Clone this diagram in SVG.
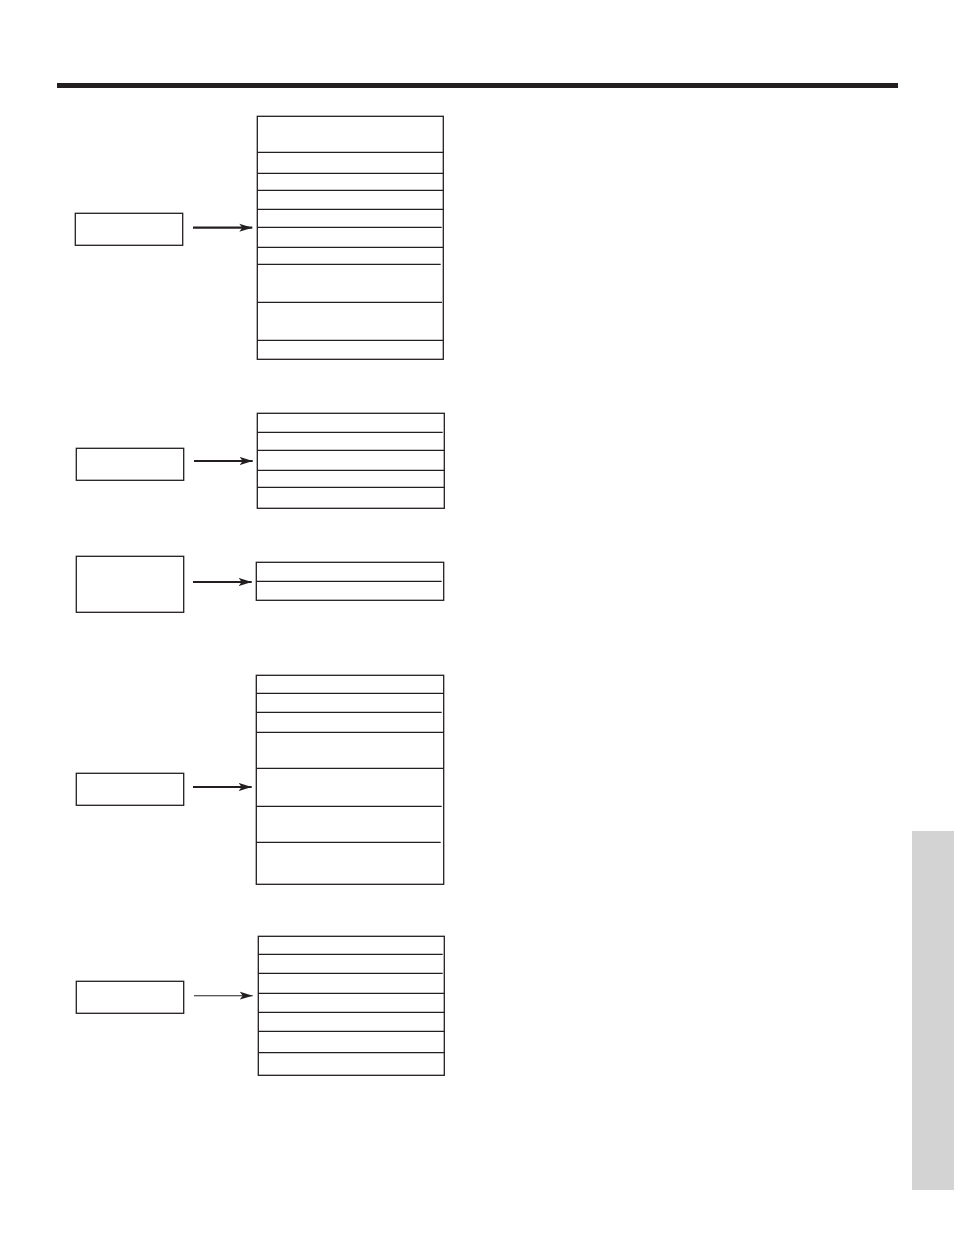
<svg xmlns="http://www.w3.org/2000/svg" width="954" height="1235" viewBox="0 0 954 1235">
<style>
.box{fill:#fff;stroke:#231f20;stroke-width:1.3}
.div{stroke:#231f20;stroke-width:1.3;fill:none}
.arr{stroke:#231f20;fill:none}
</style>
<defs>
<marker id="ah" markerUnits="userSpaceOnUse" markerWidth="16" markerHeight="10" refX="13" refY="5" orient="auto" viewBox="0 0 16 10">
<path d="M0,1 L13,5 L0,9 L3,5 Z" fill="#231f20"/>
</marker>
</defs>
<rect x="0" y="0" width="954" height="1235" fill="#fff"/>
<rect id="topbar" x="57" y="83" width="841" height="5" fill="#231f20"/>
<rect id="sidetab" x="912" y="831" width="42" height="359" fill="#d3d3d3"/>

<g id="src1"><rect class="box" x="75.3" y="213.3" width="107.4" height="32"/></g>
<g id="menu1">
<rect class="box" x="257.3" y="116.3" width="186" height="243"/>
<path class="div" d="M257.3,152.3H443.3M257.3,173.3H443.3M257.3,190.3H443.3M257.3,209.3H443.3M257.3,227.3H441.7M257.3,247.3H443.3M257.3,264.3H440.7M257.3,302.3H442M257.3,340.3H443.3"/>
</g>

<g id="src2"><rect class="box" x="76.3" y="448.3" width="107.4" height="32"/></g>
<g id="menu2">
<rect class="box" x="257.3" y="413.3" width="187" height="95"/>
<path class="div" d="M257.3,432.3H442.7M257.3,450.3H444.3M257.3,470.3H444.3M257.3,487.3H444.3"/>
</g>

<g id="src3"><rect class="box" x="76.3" y="556.3" width="107.4" height="56"/></g>
<g id="menu3">
<rect class="box" x="256.3" y="562.3" width="187.4" height="38"/>
<path class="div" d="M256.3,581.3H441.7"/>
</g>

<g id="src4"><rect class="box" x="76.3" y="773.3" width="107.4" height="32"/></g>
<g id="menu4">
<rect class="box" x="256.3" y="675.3" width="187.4" height="209"/>
<path class="div" d="M256.3,693.3H443.7M256.3,712.3H441.7M256.3,732.3H443.7M256.3,768.3H443.7M256.3,806.3H441.7M256.3,842.3H440.7"/>
</g>

<g id="src5"><rect class="box" x="76.3" y="981.3" width="107.4" height="32"/></g>
<g id="menu5">
<rect class="box" x="258.3" y="936.3" width="186" height="139"/>
<path class="div" d="M258.3,954.3H442.7M258.3,973.3H442.7M258.3,993.3H444.3M258.3,1012.3H444.3M258.3,1031.3H444.3M258.3,1052.7H444.3"/>
</g>

<g id="connectors">
<line class="arr" x1="193" y1="227.7" x2="252.3" y2="227.7" stroke-width="2.2" marker-end="url(#ah)"/>
<line class="arr" x1="194" y1="461" x2="252.7" y2="461" stroke-width="2.2" marker-end="url(#ah)"/>
<line class="arr" x1="193" y1="582" x2="251.7" y2="582" stroke-width="2.2" marker-end="url(#ah)"/>
<line class="arr" x1="193" y1="787" x2="251.7" y2="787" stroke-width="2.2" marker-end="url(#ah)"/>
<line class="arr" x1="194" y1="995.7" x2="252.7" y2="995.7" stroke-width="1.1" marker-end="url(#ah)"/>
</g>
</svg>
